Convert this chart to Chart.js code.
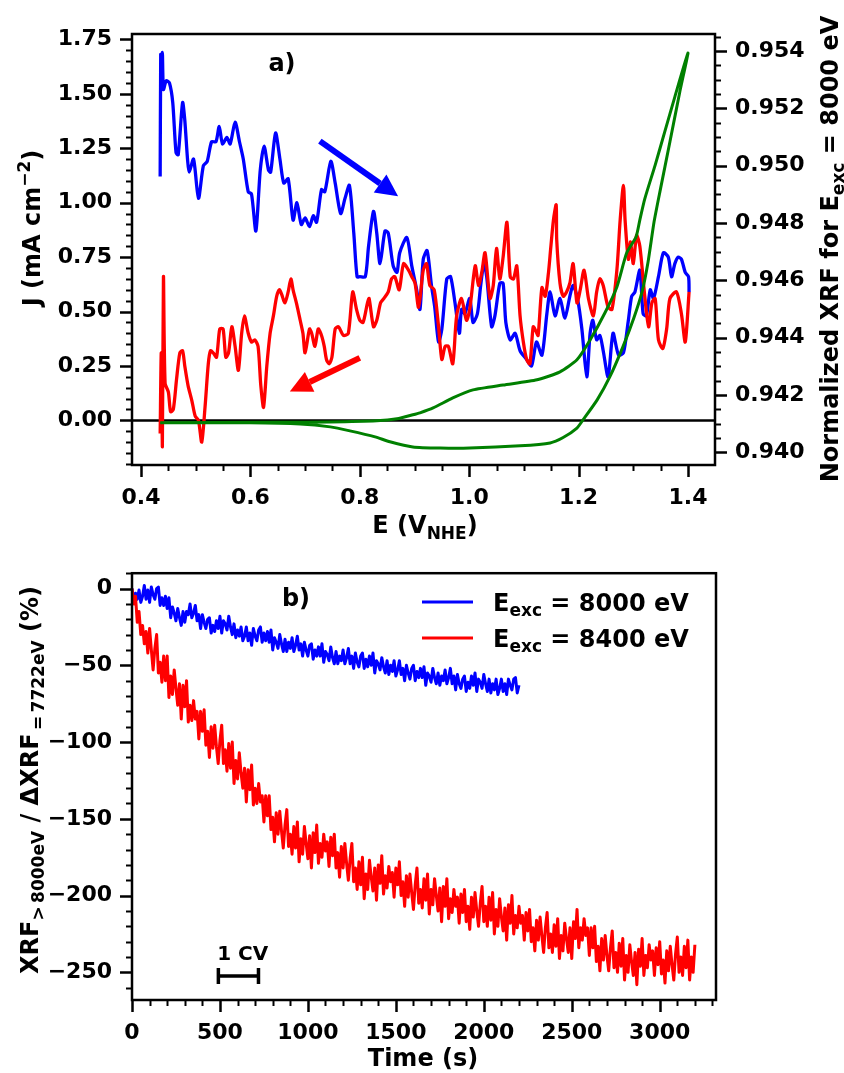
<!DOCTYPE html>
<html>
<head>
<meta charset="utf-8">
<script src="https://cdn.jsdelivr.net/npm/chart.js@4.4.0/dist/chart.umd.min.js"></script>
<style>
  html, body { margin: 0; padding: 0; background: #fff; }
  .panel { position: absolute; left: 0; width: 844px; }
</style>
</head>
<body>
<div class="panel" style="top:0;height:540px"><canvas id="cvA" width="844" height="540"></canvas></div>
<div class="panel" style="top:540px;height:533px"><canvas id="cvB" width="844" height="533"></canvas></div>
<script>
  // ===== panel a) : CV current + XRF =====
  const eTicks = [0.4, 0.6, 0.8, 1.0, 1.2, 1.4];
  const jTicks = [0, 0.25, 0.5, 0.75, 1.0, 1.25, 1.5, 1.75];
  const xrfTicks = [0.940, 0.942, 0.944, 0.946, 0.948, 0.950, 0.952, 0.954];

  const blueE = [0.435,0.436,0.437,0.439,0.441,0.446,0.452,0.458,0.464,0.468,
    0.476,0.480,0.485,0.488,0.496,0.505,0.514,0.521,0.529,0.537,
    0.543,0.549,0.557,0.563,0.572,0.580,0.587,0.596,0.602,0.610,
    0.618,0.625,0.633,0.637,0.646,0.654,0.661,0.669,0.678,0.685,
    0.693,0.700,0.708,0.715,0.721,0.730,0.736,0.747,0.755,0.765,
    0.773,0.781,0.789,0.795,0.800,0.810,0.816,0.825,0.831,0.837,
    0.846,0.852,0.861,0.868,0.873,0.886,0.895,0.904,0.910,0.916,
    0.923,0.931,0.937,0.944,0.950,0.959,0.966,0.974,0.982,0.986,
    0.992,1.001,1.007,1.015,1.021,1.027,1.032,1.041,1.047,1.056,
    1.062,1.067,1.075,1.084,1.093,1.105,1.114,1.123,1.133,1.142,
    1.148,1.157,1.166,1.175,1.184,1.190,1.198,1.206,1.215,1.221,
    1.226,1.233,1.239,1.245,1.254,1.263,1.273,1.282,1.291,1.297,
    1.303,1.312,1.318,1.324,1.331,1.337,1.346,1.355,1.364,1.370,
    1.376,1.382,1.388,1.395,1.401,1.402];
  const blueJ = [1.12,1.68,1.52,1.69,1.52,1.56,1.55,1.46,1.23,1.22,
    1.46,1.38,1.20,1.14,1.20,1.02,1.17,1.19,1.28,1.28,
    1.35,1.27,1.30,1.27,1.37,1.28,1.20,1.05,1.04,0.87,
    1.15,1.26,1.15,1.14,1.32,1.20,1.09,1.11,0.92,1.00,
    0.90,0.93,0.89,0.94,0.91,1.06,1.05,1.19,1.09,0.95,
    1.02,1.08,0.86,0.66,0.66,0.66,0.80,0.96,0.86,0.72,
    0.87,0.86,0.71,0.68,0.77,0.84,0.71,0.60,0.51,0.74,
    0.78,0.62,0.52,0.36,0.42,0.65,0.66,0.54,0.40,0.51,
    0.49,0.56,0.45,0.49,0.62,0.72,0.66,0.43,0.48,0.63,
    0.63,0.45,0.37,0.40,0.32,0.28,0.25,0.36,0.30,0.49,
    0.59,0.48,0.56,0.47,0.57,0.62,0.56,0.42,0.20,0.40,
    0.46,0.37,0.39,0.32,0.20,0.40,0.30,0.31,0.46,0.57,
    0.59,0.69,0.49,0.48,0.60,0.56,0.66,0.77,0.75,0.66,
    0.72,0.75,0.74,0.68,0.66,0.59];

  // reverse scan, listed from the upper vertex back down
  const redE = [1.402,1.395,1.388,1.379,1.367,1.361,1.354,1.346,1.340,1.334,
    1.328,1.321,1.312,1.306,1.300,1.295,1.291,1.285,1.282,1.276,
    1.270,1.261,1.254,1.245,1.239,1.233,1.227,1.218,1.210,1.203,
    1.197,1.190,1.184,1.178,1.172,1.166,1.160,1.159,1.154,1.149,
    1.145,1.139,1.133,1.126,1.122,1.117,1.111,1.105,1.099,1.093,
    1.087,1.081,1.075,1.069,1.062,1.056,1.050,1.044,1.038,1.029,
    1.023,1.017,1.011,1.001,0.995,0.986,0.977,0.970,0.962,0.956,
    0.950,0.944,0.936,0.928,0.922,0.916,0.910,0.907,0.901,0.895,
    0.889,0.880,0.872,0.864,0.858,0.852,0.844,0.838,0.831,0.825,
    0.817,0.814,0.806,0.800,0.794,0.787,0.779,0.770,0.761,0.755,
    0.749,0.744,0.739,0.735,0.730,0.724,0.718,0.712,0.708,0.700,
    0.696,0.691,0.685,0.678,0.674,0.669,0.663,0.657,0.653,0.648,
    0.642,0.636,0.630,0.624,0.619,0.614,0.608,0.602,0.596,0.589,
    0.584,0.578,0.572,0.566,0.560,0.555,0.550,0.544,0.538,0.532,
    0.527,0.523,0.517,0.511,0.505,0.499,0.493,0.486,0.480,0.476,
    0.471,0.465,0.459,0.454,0.450,0.444,0.441,0.439,0.437,0.435];
  const redJ = [0.59,0.36,0.49,0.59,0.56,0.42,0.33,0.37,0.56,0.54,
    0.43,0.57,0.80,0.85,0.72,0.82,0.74,0.92,1.08,0.92,
    0.69,0.51,0.52,0.62,0.65,0.59,0.48,0.56,0.69,0.60,
    0.54,0.72,0.63,0.59,0.57,0.63,0.83,0.99,0.92,0.79,
    0.68,0.57,0.61,0.39,0.41,0.43,0.26,0.28,0.36,0.48,
    0.71,0.65,0.66,0.91,0.75,0.65,0.79,0.62,0.56,0.77,
    0.68,0.62,0.71,0.51,0.46,0.56,0.48,0.26,0.34,0.34,
    0.28,0.43,0.60,0.62,0.72,0.69,0.56,0.52,0.63,0.66,
    0.69,0.72,0.60,0.66,0.65,0.59,0.56,0.54,0.46,0.43,
    0.56,0.54,0.45,0.46,0.51,0.59,0.40,0.39,0.43,0.42,
    0.29,0.26,0.28,0.34,0.39,0.42,0.34,0.40,0.42,0.31,
    0.40,0.46,0.53,0.60,0.65,0.59,0.54,0.58,0.60,0.57,
    0.48,0.40,0.25,0.06,0.16,0.34,0.37,0.36,0.40,0.48,
    0.40,0.23,0.34,0.43,0.31,0.29,0.42,0.42,0.29,0.31,
    0.32,0.26,0.06,-0.10,0.00,0.02,0.09,0.16,0.25,0.32,
    0.31,0.19,0.05,0.04,0.13,0.17,0.66,-0.12,0.31,-0.06];

  // normalized XRF (right axis), lower branch out, upper branch back
  const xrfE = [0.435,0.599,0.691,0.746,0.782,0.828,0.855,0.897,0.947,1.001,
    1.093,1.148,1.171,1.197,1.208,1.234,1.257,1.281,1.301,1.316,
    1.327,1.338,1.349,1.367,1.385,1.400,
    1.376,1.358,1.340,1.321,1.312,1.305,1.288,1.270,1.248,1.221,
    1.197,1.166,1.124,1.062,1.007,0.970,0.934,0.910,0.897,0.868,
    0.831,0.746,0.654,0.435];
  const xrfVal = [0.94103,0.94103,0.94099,0.94089,0.94075,0.94054,0.94037,0.94019,0.94015,0.94015,
    0.94023,0.94033,0.94051,0.94085,0.94113,0.94183,0.94263,0.94368,0.94469,0.94560,
    0.94664,0.94804,0.94912,0.95083,0.95257,0.95393,
    0.95240,0.95121,0.95002,0.94884,0.94811,0.94751,0.94696,0.94577,0.94486,0.94392,
    0.94323,0.94281,0.94253,0.94235,0.94218,0.94190,0.94155,0.94138,0.94131,0.94117,
    0.94110,0.94106,0.94105,0.94103];

  // ===== panel b) : XRF drift vs time, one sample every 10 s =====
  const timeTicks = [0, 500, 1000, 1500, 2000, 2500, 3000];
  const pctTicks = [-250, -200, -150, -100, -50, 0];
  const sampleStep = 10;
  const pct8000 = [0,-8,-3,-7,-1,-9,-5,2,-7,-1,
    -9,1,-4,-7,0,1,-11,-6,-11,-5,
    -13,-6,-19,-12,-16,-21,-13,-19,-24,-15,
    -22,-15,-17,-10,-19,-16,-11,-21,-17,-26,
    -17,-22,-26,-20,-19,-29,-24,-28,-21,-26,
    -18,-29,-21,-23,-27,-18,-25,-30,-23,-32,
    -27,-31,-25,-34,-31,-25,-34,-29,-37,-26,
    -31,-34,-27,-25,-35,-29,-34,-28,-35,-27,
    -40,-32,-35,-39,-30,-36,-41,-33,-41,-35,
    -39,-32,-41,-37,-31,-40,-36,-44,-35,-40,
    -44,-37,-36,-46,-40,-44,-38,-44,-36,-48,
    -41,-43,-47,-38,-45,-49,-41,-49,-44,-47,
    -40,-49,-45,-39,-49,-44,-52,-42,-48,-51,
    -44,-42,-52,-46,-51,-44,-50,-42,-55,-47,
    -49,-53,-45,-51,-55,-47,-56,-50,-54,-47,
    -57,-53,-47,-56,-52,-60,-50,-55,-59,-52,
    -50,-60,-54,-58,-52,-58,-51,-63,-55,-57,
    -61,-52,-58,-62,-55,-63,-57,-60,-53,-62,
    -58,-52,-62,-57,-66,-56,-62,-65,-59,-57,
    -67,-61,-65,-57,-63,-55,-67,-59,-61,-65,
    -56,-62,-67,-59,-68,-62,-66,-59,-69,-65,
    -59,-67,-62,-69,-59,-63,-66,-59,-58,-68,-63];
  const pct8400 = [0,-10,-5,-22,-15,-30,-24,-36,-28,-42,
    -26,-40,-53,-39,-30,-55,-48,-61,-44,-60,
    -44,-71,-57,-69,-53,-65,-76,-62,-85,-63,
    -77,-60,-87,-76,-86,-73,-85,-80,-98,-80,
    -93,-79,-102,-93,-110,-90,-104,-89,-103,-114,
    -99,-89,-114,-105,-119,-101,-117,-100,-127,-112,
    -124,-107,-120,-130,-117,-139,-118,-131,-115,-141,
    -130,-140,-127,-139,-135,-152,-135,-148,-135,-157,
    -149,-165,-146,-160,-145,-158,-169,-154,-144,-168,
    -160,-173,-155,-169,-152,-178,-163,-173,-155,-166,
    -176,-161,-182,-159,-172,-154,-179,-166,-175,-160,
    -171,-165,-181,-162,-174,-160,-182,-172,-188,-168,
    -182,-166,-179,-190,-176,-166,-191,-182,-196,-178,
    -193,-175,-202,-186,-196,-177,-188,-197,-182,-203,
    -180,-192,-174,-199,-187,-195,-181,-191,-185,-201,
    -182,-193,-178,-200,-191,-207,-187,-201,-186,-198,
    -209,-193,-182,-205,-196,-208,-189,-203,-186,-212,
    -196,-206,-189,-200,-210,-195,-217,-194,-207,-189,
    -215,-202,-211,-196,-207,-201,-218,-199,-211,-196,
    -217,-207,-222,-201,-214,-198,-210,-220,-205,-194,
    -217,-207,-220,-201,-216,-198,-225,-209,-220,-202,
    -214,-223,-208,-229,-206,-218,-200,-225,-213,-221,
    -207,-218,-213,-229,-211,-223,-209,-230,-221,-236,
    -216,-229,-214,-226,-237,-221,-211,-234,-225,-237,
    -219,-233,-215,-241,-226,-236,-218,-228,-237,-221,
    -241,-217,-228,-209,-234,-221,-229,-215,-226,-221,
    -239,-221,-234,-220,-243,-233,-249,-228,-242,-226,
    -239,-249,-234,-223,-247,-237,-250,-231,-246,-228,
    -255,-239,-250,-232,-243,-252,-237,-258,-235,-246,
    -228,-252,-239,-247,-232,-242,-236,-252,-234,-245,
    -230,-251,-242,-257,-236,-249,-233,-245,-255,-238,
    -227,-250,-240,-252,-233,-247,-229,-255,-240,-250,-232];

  const FONT = '"DejaVu Sans", sans-serif';
  const TICK_PX = 22, LABEL_PX = 24, SUB_PX = 17;
  Chart.defaults.font.family = FONT;
  Chart.defaults.font.weight = 'bold';
  Chart.defaults.font.size = TICK_PX;
  Chart.defaults.color = '#000';

  const pairs = (xs, ys) => xs.map((x, i) => ({ x: x, y: ys[i] }));
  const timed = (vals) => vals.map((v, i) => ({ x: i * sampleStep, y: v }));
  const minus = (s) => String(s).replace('-', '\u2212');
  const fixedTicks = (list) => (s) => { s.ticks = list.map(v => ({ value: v })); };

  function richText(ctx, parts, x, y) {
    let total = 0;
    parts.forEach(p => {
      ctx.font = 'bold ' + p.s + 'px ' + FONT;
      p.w = ctx.measureText(p.t).width;
      total += p.w;
    });
    let cx = x - total / 2;
    ctx.textAlign = 'left';
    ctx.textBaseline = 'alphabetic';
    parts.forEach(p => {
      ctx.font = 'bold ' + p.s + 'px ' + FONT;
      ctx.fillText(p.t, cx, y + (p.dy || 0));
      cx += p.w;
    });
  }

  function rotatedText(ctx, parts, cx, cy) {
    ctx.save();
    ctx.translate(cx, cy);
    ctx.rotate(-Math.PI / 2);
    richText(ctx, parts, 0, 8);
    ctx.restore();
  }

  // matplotlib style major + minor tick marks
  function tickMarks(ctx, scale, side, area, major, minor) {
    const start = Math.ceil(scale.min / minor - 1e-6);
    const end = Math.floor(scale.max / minor + 1e-6);
    ctx.save();
    ctx.strokeStyle = '#000';
    for (let k = start; k <= end; k++) {
      const v = k * minor;
      const r = v / major;
      const isMajor = Math.abs(r - Math.round(r)) < 1e-6;
      const len = isMajor ? 12 : 6;
      ctx.lineWidth = isMajor ? 2.5 : 2;
      const p = Math.round(scale.getPixelForValue(v)) + 0.5;
      ctx.beginPath();
      if (side === 'left') { ctx.moveTo(area.left, p); ctx.lineTo(area.left - len, p); }
      if (side === 'right') { ctx.moveTo(area.right, p); ctx.lineTo(area.right + len, p); }
      if (side === 'bottom') { ctx.moveTo(p, area.bottom); ctx.lineTo(p, area.bottom + len); }
      ctx.stroke();
    }
    ctx.restore();
  }

  function frame(ctx, a) {
    ctx.save();
    ctx.strokeStyle = '#000';
    ctx.lineWidth = 2.5;
    ctx.strokeRect(a.left, a.top, a.right - a.left, a.bottom - a.top);
    ctx.restore();
  }

  function arrow(ctx, x1, y1, x2, y2, color) {
    const ang = Math.atan2(y2 - y1, x2 - x1);
    const head = 22, half = 11;
    const bx = x2 - head * Math.cos(ang), by = y2 - head * Math.sin(ang);
    ctx.save();
    ctx.strokeStyle = color;
    ctx.fillStyle = color;
    ctx.lineWidth = 6;
    ctx.beginPath();
    ctx.moveTo(x1, y1);
    ctx.lineTo(bx, by);
    ctx.stroke();
    ctx.beginPath();
    ctx.moveTo(x2, y2);
    ctx.lineTo(bx + half * Math.sin(ang), by - half * Math.cos(ang));
    ctx.lineTo(bx - half * Math.sin(ang), by + half * Math.cos(ang));
    ctx.closePath();
    ctx.fill();
    ctx.restore();
  }

  const hiddenGrid = { display: false, drawTicks: false };
  const noBorder = { display: false };

  const decorA = {
    id: 'decorA',
    afterDatasetsDraw(chart) {
      const ctx = chart.ctx, x = chart.scales.x, y = chart.scales.yJ;
      arrow(ctx, x.getPixelForValue(0.727), y.getPixelForValue(1.283),
                 x.getPixelForValue(0.870), y.getPixelForValue(1.030), '#0000ff');
      arrow(ctx, x.getPixelForValue(0.800), y.getPixelForValue(0.287),
                 x.getPixelForValue(0.672), y.getPixelForValue(0.133), '#ff0000');
    },
    afterDraw(chart) {
      const ctx = chart.ctx, a = chart.chartArea;
      frame(ctx, a);
      tickMarks(ctx, chart.scales.yJ, 'left', a, 0.25, 0.05);
      tickMarks(ctx, chart.scales.yX, 'right', a, 0.002, 0.0005);
      tickMarks(ctx, chart.scales.x, 'bottom', a, 0.2, 0.05);
      ctx.fillStyle = '#000';
      rotatedText(ctx, [{ t: 'J (mA cm', s: LABEL_PX }, { t: '\u22122', s: SUB_PX, dy: -10 }, { t: ')', s: LABEL_PX }], 32, 228);
      rotatedText(ctx, [{ t: 'Normalized XRF for E', s: LABEL_PX }, { t: 'exc', s: SUB_PX, dy: 6 },
                        { t: ' = 8000 eV', s: LABEL_PX }], 830, 249);
      richText(ctx, [{ t: 'E (V', s: LABEL_PX }, { t: 'NHE', s: SUB_PX, dy: 6 }, { t: ')', s: LABEL_PX }], 425, 533);
      richText(ctx, [{ t: 'a)', s: 24 }], 282, 71);
    }
  };

  new Chart(document.getElementById('cvA'), {
    type: 'scatter',
    data: {
      datasets: [
        { label: 'zero', data: [{ x: 0.3835, y: 0 }, { x: 1.4494, y: 0 }], yAxisID: 'yJ',
          showLine: true, borderColor: '#000', borderWidth: 2.5, order: 4 },
        { label: 'forward', data: pairs(blueE, blueJ), yAxisID: 'yJ',
          showLine: true, borderColor: '#0000ff', borderWidth: 3.3, tension: 0.25, order: 3 },
        { label: 'reverse', data: pairs(redE, redJ), yAxisID: 'yJ',
          showLine: true, borderColor: '#ff0000', borderWidth: 3.3, tension: 0.25, order: 2 },
        { label: 'XRF', data: pairs(xrfE, xrfVal), yAxisID: 'yX',
          showLine: true, borderColor: '#008000', borderWidth: 3, tension: 0.2, order: 1 }
      ]
    },
    options: {
      responsive: false,
      animation: false,
      layout: { padding: { top: 34, left: 0, right: 0, bottom: 0 } },
      elements: { point: { radius: 0, hoverRadius: 0 }, line: { borderJoinStyle: 'round' } },
      plugins: { legend: { display: false }, tooltip: { enabled: false } },
      scales: {
        x: {
          type: 'linear', min: 0.3835, max: 1.4494,
          grid: hiddenGrid, border: noBorder,
          afterBuildTicks: fixedTicks(eTicks),
          ticks: { padding: 20, maxRotation: 0, autoSkip: false, callback: v => v.toFixed(1) },
          afterFit: s => { s.height = 75; }
        },
        yJ: {
          type: 'linear', position: 'left', min: -0.205, max: 1.775,
          grid: hiddenGrid, border: noBorder,
          afterBuildTicks: fixedTicks(jTicks),
          ticks: { padding: 20, autoSkip: false, callback: v => v.toFixed(2) },
          afterFit: s => { s.width = 132; }
        },
        yX: {
          type: 'linear', position: 'right', min: 0.93956, max: 0.95459,
          grid: hiddenGrid, border: noBorder,
          afterBuildTicks: fixedTicks(xrfTicks),
          ticks: { padding: 20, autoSkip: false, callback: v => v.toFixed(3) },
          afterFit: s => { s.width = 129; }
        }
      }
    },
    plugins: [decorA]
  });

  const decorB = {
    id: 'decorB',
    afterDraw(chart) {
      const ctx = chart.ctx, a = chart.chartArea, x = chart.scales.x, y = chart.scales.y;
      frame(ctx, a);
      tickMarks(ctx, y, 'left', a, 50, 10);
      tickMarks(ctx, x, 'bottom', a, 500, 100);
      ctx.fillStyle = '#000';
      rotatedText(ctx, [{ t: 'XRF', s: LABEL_PX }, { t: '>\u20098000eV', s: SUB_PX, dy: 6 },
                        { t: ' / \u0394XRF', s: LABEL_PX }, { t: '\u2009=\u20097722eV', s: SUB_PX, dy: 6 },
                        { t: ' (%)', s: LABEL_PX }], 30, 240);
      richText(ctx, [{ t: 'Time (s)', s: LABEL_PX }], 423, 526);
      richText(ctx, [{ t: 'b)', s: 24 }], 296, 66);

      // legend
      const rows = [['#0000ff', '8000'], ['#ff0000', '8400']];
      rows.forEach((r, i) => {
        const ly = 62 + i * 36;
        ctx.save();
        ctx.strokeStyle = r[0];
        ctx.lineWidth = 3;
        ctx.beginPath();
        ctx.moveTo(422, ly);
        ctx.lineTo(473, ly);
        ctx.stroke();
        ctx.restore();
        ctx.textAlign = 'left';
        ctx.font = 'bold 24px ' + FONT;
        ctx.fillText('E', 493, ly + 9);
        const ew = ctx.measureText('E').width;
        ctx.font = 'bold 17px ' + FONT;
        ctx.fillText('exc', 493 + ew, ly + 14);
        const sw = ctx.measureText('exc').width;
        ctx.font = 'bold 24px ' + FONT;
        ctx.fillText(' = ' + r[1] + ' eV', 493 + ew + sw, ly + 9);
      });

      // one CV duration marker
      const x1 = x.getPixelForValue(491), x2 = x.getPixelForValue(719), by = y.getPixelForValue(-252.4);
      ctx.save();
      ctx.strokeStyle = '#000';
      ctx.lineWidth = 3.5;
      ctx.beginPath();
      ctx.moveTo(x1, by); ctx.lineTo(x2, by);
      ctx.moveTo(x1, by - 8); ctx.lineTo(x1, by + 8);
      ctx.moveTo(x2, by - 8); ctx.lineTo(x2, by + 8);
      ctx.stroke();
      ctx.restore();
      richText(ctx, [{ t: '1 CV', s: 20 }], x.getPixelForValue(629), y.getPixelForValue(-237.7) + 7);
    }
  };

  new Chart(document.getElementById('cvB'), {
    type: 'scatter',
    data: {
      datasets: [
        { label: 'E_exc = 8000 eV', data: timed(pct8000), showLine: true,
          borderColor: '#0000ff', borderWidth: 3, order: 2 },
        { label: 'E_exc = 8400 eV', data: timed(pct8400), showLine: true,
          borderColor: '#ff0000', borderWidth: 3, order: 1 }
      ]
    },
    options: {
      responsive: false,
      animation: false,
      layout: { padding: { top: 32, left: 0, right: 128, bottom: 0 } },
      elements: { point: { radius: 0, hoverRadius: 0 }, line: { borderJoinStyle: 'round' } },
      plugins: { legend: { display: false }, tooltip: { enabled: false } },
      scales: {
        x: {
          type: 'linear', min: 0, max: 3320,
          grid: hiddenGrid, border: noBorder,
          afterBuildTicks: fixedTicks(timeTicks),
          ticks: { padding: 20, maxRotation: 0, autoSkip: false, callback: v => String(v) },
          afterFit: s => { s.height = 73; }
        },
        y: {
          type: 'linear', position: 'left', min: -268, max: 10,
          grid: hiddenGrid, border: noBorder,
          afterBuildTicks: fixedTicks(pctTicks),
          ticks: { padding: 20, autoSkip: false, callback: v => minus(v) },
          afterFit: s => { s.width = 132; }
        }
      }
    },
    plugins: [decorB]
  });
</script>
</body>
</html>
